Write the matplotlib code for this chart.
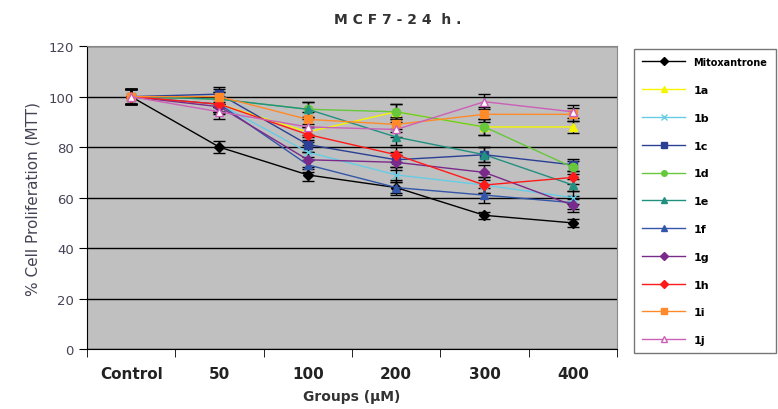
import numpy as np
import matplotlib
matplotlib.use('Agg')
import matplotlib.pyplot as plt

groups = ['Control', '50', '100', '200', '300', '400']

mitoxantrone = [100, 80, 69, 64, 53, 50]
c1a = [100, 97, 86, 94, 88, 88]
c1b = [100, 97, 78, 69, 65, 60]
c1c = [100, 101, 81, 75, 77, 73]
c1d = [100, 99, 95, 94, 88, 72]
c1e = [100, 99, 95, 84, 77, 65]
c1f = [100, 97, 73, 64, 61, 58]
c1g = [100, 96, 75, 74, 70, 57]
c1h = [100, 97, 85, 77, 65, 68]
c1i = [100, 100, 91, 89, 93, 93]
c1j = [100, 94, 88, 87, 98, 94]

# error bars (read off the caps, roughly)
err_mito = [3, 2.5, 2.5, 2, 1.5, 1.5]
err_cpd = [3, 3, 3, 3, 3, 2.5]

names = ['Mitoxantrone', '1a', '1b', '1c', '1d', '1e', '1f', '1g', '1h', '1i', '1j']
series = [mitoxantrone, c1a, c1b, c1c, c1d, c1e, c1f, c1g, c1h, c1i, c1j]
colors = ['#000000', '#F5F500', '#66CCE6', '#2B3F94', '#66C83A', '#229080',
          '#3456A8', '#7A2A8A', '#FF1A1A', '#FF8A2A', '#CC5FB8']
markers = ['D', '^', 'x', 's', 'o', '^', '^', 'D', 'D', 's', '^']

fig = plt.figure(figsize=(7.78, 4.10), dpi=100)
ax = fig.add_axes([0.1118, 0.146, 0.6812, 0.739])
ax.set_facecolor('#C0C0C0')

x = np.arange(len(groups))
handles = []
for i, (name, vals) in enumerate(zip(names, series)):
    err = err_mito if i == 0 else err_cpd
    face = 'white' if name == '1j' else colors[i]
    ms = 5 if markers[i] == 'D' else 6
    cont = ax.errorbar(x, vals, yerr=err, color=colors[i], marker=markers[i], ms=ms,
                       mfc=face, mec=colors[i], lw=1, ecolor='black', elinewidth=1,
                       capsize=4, capthick=1, label=name, zorder=3 + i * 0.01)
    handles.append(cont[0])

ax.set_xlim(-0.5, 5.5)
ax.set_ylim(0, 120)
ax.set_yticks(np.arange(0, 121, 20))
ax.yaxis.grid(True, color='black', lw=1)
ax.set_axisbelow(True)
ax.set_xticks(x)
ax.set_xticklabels(groups, fontsize=11, fontweight='bold', color='#222222')
ax.set_xticks(np.arange(-0.5, 6, 1), minor=True)
ax.tick_params(axis='x', which='major', length=0, pad=12)
ax.tick_params(axis='x', which='minor', length=6, direction='out', color='black')
ax.tick_params(axis='y', length=6, direction='out', labelsize=9.5, labelcolor='#444455')
for s in ['top', 'right']:
    ax.spines[s].set_color('#888888')
ax.spines['left'].set_color('black')
ax.spines['bottom'].set_color('black')

ax.set_xlabel('Groups (µM)', fontsize=10, fontweight='bold', color='#333333', labelpad=6)
ax.set_ylabel('% Cell Proliferation (MTT)', fontsize=11, color='#444455', labelpad=6)
fig.text(0.511, 0.95, 'M C F 7 - 2 4  h .', ha='center', va='center',
         fontsize=10, fontweight='bold', color='#333333')

leg = fig.legend(handles, names, loc='upper left', bbox_to_anchor=(0.815, 0.878),
                 frameon=True, fancybox=False, edgecolor='#555555',
                 labelspacing=1.6, handlelength=3.8, borderpad=0.75,
                 handletextpad=0.8, borderaxespad=0,
                 prop={'weight': 'bold', 'size': 8})
leg.get_frame().set_linewidth(1)
for t in leg.get_texts():
    if t.get_text() == 'Mitoxantrone':
        t.set_fontsize(7)
for h in leg.legend_handles:
    h.set_markersize(4)

fig.savefig('out.png', dpi=100)
